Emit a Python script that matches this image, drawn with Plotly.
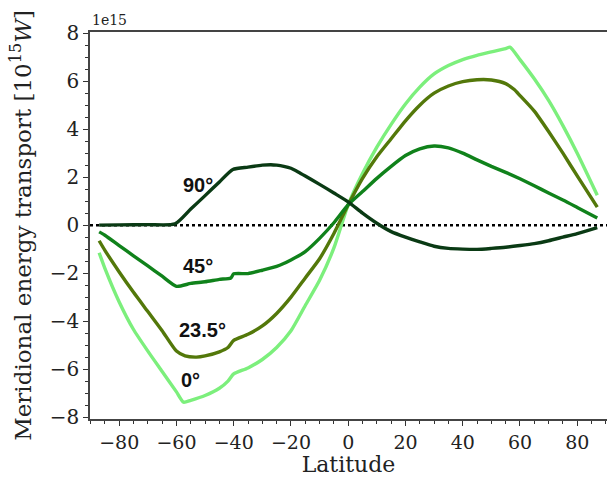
import plotly.graph_objects as go

# Latitudes (degrees) and meridional energy transport (units of 1e15 W)
lat_0 = [-87, -85, -80, -75, -70, -65, -60, -57.5, -55, -50, -45, -42, -40, -35, -30, -25, -20,
         -15, -10, -5, 0, 5, 10, 15, 20, 25, 30, 35, 40, 45, 50, 55, 56.5, 60, 65, 70, 75, 80, 87]
obl_0 = [-1.15, -1.8, -3.2, -4.35, -5.25, -6.1, -6.95, -7.38, -7.3, -7.1, -6.8, -6.5, -6.2, -5.95,
         -5.6, -5.1, -4.4, -3.35, -2.3, -0.95, 0.85, 2.15, 3.25, 4.2, 5.05, 5.75, 6.3, 6.65, 6.9,
         7.08, 7.22, 7.36, 7.42, 6.9, 6.1, 5.2, 4.15, 3.0, 1.25]

lat_23 = [-87, -85, -80, -75, -70, -65, -60, -57, -53, -50, -45, -42, -40, -35, -30, -25, -20,
          -15, -10, -5, 0, 5, 10, 15, 20, 25, 30, 35, 40, 45, 50, 55, 58, 60, 65, 70, 75, 80, 87]
obl_23 = [-0.65, -1.05, -1.95, -2.8, -3.6, -4.4, -5.25, -5.45, -5.5, -5.45, -5.28, -5.1, -4.8,
          -4.55, -4.2, -3.68, -3.0, -2.2, -1.4, -0.35, 0.85, 1.95, 2.85, 3.6, 4.35, 5.0, 5.5, 5.8,
          5.98, 6.06, 6.05, 5.9, 5.65, 5.4, 4.75, 3.9, 3.0, 2.05, 0.75]

lat_45 = [-87, -85, -80, -75, -70, -65, -60, -55, -50, -45, -41, -40, -35, -30, -25, -20, -15,
          -10, -5, 0, 5, 10, 15, 20, 25, 30, 35, 40, 45, 50, 55, 60, 65, 70, 75, 80, 87]
obl_45 = [-0.28, -0.42, -0.85, -1.28, -1.7, -2.13, -2.55, -2.43, -2.36, -2.26, -2.2, -2.03, -2.02,
          -1.88, -1.72, -1.45, -1.1, -0.55, 0.1, 0.85, 1.4, 1.95, 2.45, 2.9, 3.18, 3.3, 3.22, 3.0,
          2.72, 2.45, 2.2, 1.93, 1.64, 1.34, 1.05, 0.74, 0.3]

lat_90 = [-87, -80, -70, -60.5, -55, -50, -45, -40.3, -35, -30, -27, -25, -22.5, -20, -17.5, -15,
          -10, -5, 0, 5, 10, 15, 20, 25, 30, 35, 40, 45, 50, 55, 60, 65, 70, 75, 80, 87]
obl_90 = [0.0, 0.01, 0.02, 0.05, 0.67, 1.23, 1.8, 2.32, 2.42, 2.5, 2.52, 2.5, 2.45, 2.37, 2.22,
          2.05, 1.7, 1.34, 0.97, 0.5, 0.08, -0.27, -0.5, -0.7, -0.88, -0.97, -1.0, -1.01, -0.97,
          -0.92, -0.85, -0.77, -0.65, -0.5, -0.35, -0.1]

labels = ["0°", "23.5°", "45°", "90°"]
colors = ["#7cef7c", "#53780a", "#10821b", "#0a3a14"]
label_lat = [-55, -50.8, -52.5, -52.5]
label_val = [-6.46, -4.38, -1.71, 1.69]

x_ticks = [-80, -60, -40, -20, 0, 20, 40, 60, 80]
y_ticks = [-8, -6, -4, -2, 0, 2, 4, 6, 8]

series = [(lat_0, obl_0), (lat_23, obl_23), (lat_45, obl_45), (lat_90, obl_90)]

fig = go.Figure()

# zero reference line
fig.add_trace(go.Scatter(x=[-90.2, 90.4], y=[0, 0], mode="lines",
                         line=dict(color="black", width=2.5, dash="dot"),
                         hoverinfo="skip", showlegend=False))

for (xs, ys), name, col in zip(series, labels, colors):
    fig.add_trace(go.Scatter(x=xs, y=ys, mode="lines", name=name,
                             line=dict(color=col, width=3.4, shape="spline", smoothing=0.6),
                             showlegend=False))

for name, lx, ly in zip(labels, label_lat, label_val):
    fig.add_annotation(x=lx, y=ly, xref="x", yref="y", text="<b>" + name + "</b>",
                       showarrow=False, font=dict(family="Liberation Sans, Arial", size=20,
                                                  color="#111111"))

fig.add_annotation(x=0, y=1, xref="paper", yref="paper", xanchor="left", yanchor="bottom",
                   yshift=2, text="1e15", showarrow=False,
                   font=dict(family="DejaVu Serif", size=14, color="#222222"))

fig.update_layout(
    width=608, height=477,
    margin=dict(l=90, r=1, t=32, b=58),
    plot_bgcolor="white", paper_bgcolor="white",
    font=dict(family="DejaVu Serif", color="#222222"),
    xaxis=dict(
        range=[-90.2, 90.4], tickvals=x_ticks, ticks="outside", ticklen=5, tickwidth=1.2,
        tickcolor="#333333", tickfont=dict(size=19), showgrid=False, zeroline=False,
        showline=True, linecolor="#444444", linewidth=1.5, mirror=True,
        minor=dict(dtick=5, tick0=0, ticks="outside", ticklen=3, tickcolor="#333333"),
        title=dict(text="Latitude", font=dict(size=22), standoff=4),
    ),
    yaxis=dict(
        range=[-8.08, 8.05], tickvals=y_ticks, ticks="outside", ticklen=5, tickwidth=1.2,
        tickcolor="#333333", tickfont=dict(size=20), showgrid=False, zeroline=False,
        showline=True, linecolor="#444444", linewidth=1.5,
        minor=dict(dtick=0.5, tick0=0, ticks="outside", ticklen=3, tickcolor="#333333"),
        title=dict(text="Meridional energy transport [10<sup>15</sup><i>W</i>]",
                   font=dict(size=23), standoff=12),
    ),
)

fig.write_html("out.html")
